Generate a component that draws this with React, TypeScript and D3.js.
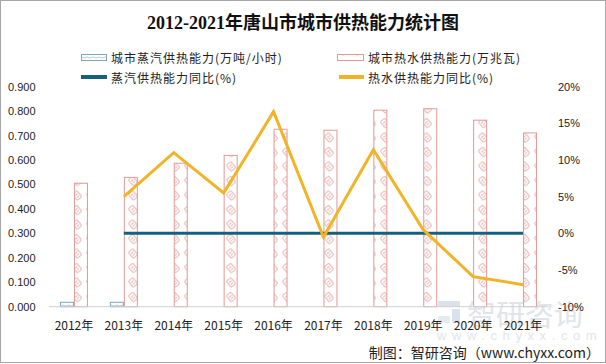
import React from "react"
import * as d3 from "d3"

const years = ["2012年", "2013年", "2014年", "2015年", "2016年", "2017年", "2018年", "2019年", "2020年", "2021年"]
// 城市蒸汽供热能力(万吨/小时)
const steamCap = [0.018, 0.018, 0, 0, 0, 0, 0, 0, 0, 0]
// 城市热水供热能力(万兆瓦)
const waterCap = [0.505, 0.529, 0.587, 0.619, 0.726, 0.722, 0.804, 0.81, 0.763, 0.711]
// 蒸汽供热能力同比(%)
const steamYoy: (number | null)[] = [null, 0, 0, 0, 0, 0, 0, 0, 0, 0]
// 热水供热能力同比(%)
const waterYoy: (number | null)[] = [null, 5.0, 11.0, 5.5, 16.6, -0.5, 11.4, 0.5, -5.9, -7.0]

const leftTicks = [0, 0.1, 0.2, 0.3, 0.4, 0.5, 0.6, 0.7, 0.8, 0.9]
const rightTicks = [-10, -5, 0, 5, 10, 15, 20]

const W = 606
const H = 364
const cjk = "'Noto Sans CJK SC', sans-serif"
const num = "'Liberation Sans', Arial, sans-serif"

export default function App() {
  const plot = { left: 49, right: 548, top: 86.7, bottom: 306.7 }

  const x0 = d3.scaleBand<string>().domain(years).range([plot.left, plot.right]).padding(0)
  const groupW = 28
  const x1 = d3.scaleBand<string>().domain(["steam", "water"]).range([0, groupW])
  const yL = d3.scaleLinear().domain([0, 0.9]).range([plot.bottom, plot.top])
  const yR = d3.scaleLinear().domain([-10, 20]).range([plot.bottom, plot.top])
  const cx = (y: string) => (x0(y) || 0) + x0.bandwidth() / 2

  const line = d3
    .line<number | null>()
    .defined((d) => d !== null)
    .x((_, i) => cx(years[i]))
    .y((d) => yR(d as number))

  return (
    <svg width={W} height={H} style={{ position: "absolute", left: 0, top: 0, background: "#fff" }}>
      <defs>
        <pattern id="pWater" width="14" height="14.5" patternUnits="userSpaceOnUse">
          <rect width="14" height="14.5" fill="#fff" />
          <g transform="translate(7,7) rotate(-40)" fill="none" stroke="#e9b8b8" strokeWidth="1.1">
            <rect x="-3" y="-4" width="6" height="8" rx="1.5" />
            <line x1="-1.5" y1="-1" x2="1.5" y2="-1" />
            <line x1="-1.5" y1="1.5" x2="1.5" y2="1.5" />
          </g>
        </pattern>
        <pattern id="pSteam" width="6" height="4" patternUnits="userSpaceOnUse">
          <rect width="6" height="4" fill="#fff" />
          <path d="M0,2 L3,1 L6,2" fill="none" stroke="#9ec0cf" strokeWidth="0.8" />
        </pattern>
      </defs>

      <rect x={0.5} y={0.5} width={W - 1} height={H - 2} fill="none" stroke="#a6a6a6" />

      <text x={303} y={23} textAnchor="middle" dominantBaseline="central" fontSize={18} fontWeight="bold"
        fontFamily={"'Liberation Serif', 'Noto Sans CJK SC', serif"} fill="#111">
        2012-2021年唐山市城市供热能力统计图
      </text>

      {/* legend */}
      <g fontFamily={cjk} fontSize={12} fill="#222" letterSpacing={1}>
        <rect x={81.5} y={54.5} width={25} height={6} fill="url(#pSteam)" stroke="#7fa6b8" />
        <text x={111} y={57} dominantBaseline="central">城市蒸汽供热能力(万吨/小时)</text>
        <rect x={337.5} y={54.5} width={26} height={6} fill="url(#pWater)" stroke="#e09a96" />
        <text x={368} y={57} dominantBaseline="central">城市热水供热能力(万兆瓦)</text>
        <line x1={81} x2={107} y1={77} y2={77} stroke="#16607c" strokeWidth={4} />
        <text x={111} y={77} dominantBaseline="central">蒸汽供热能力同比(%)</text>
        <line x1={339} x2={364} y1={77} y2={77} stroke="#f0b429" strokeWidth={4} />
        <text x={368} y={77} dominantBaseline="central">热水供热能力同比(%)</text>
      </g>

      {/* watermark */}
      <g opacity={0.5}>
        <rect x={438} y={301} width={22} height={6} fill="#b9c6d8" />
        <rect x={452} y={309} width={8} height={14} fill="#b9c6d8" />
        <rect x={438} y={316} width={12} height={7} fill="#cfd8e4" />
        <text x={467} y={313} dominantBaseline="central" fontSize={29} fontFamily={cjk} fill="#c4ccd6">智研咨询</text>
        <text x={437} y={335} dominantBaseline="central" fontSize={13} fontFamily={num} fill="#c4ccd6" letterSpacing={5.6}>www.chyxx.com</text>
      </g>

      {/* axis labels */}
      <g fontFamily={num} fontSize={11} fill="#222">
        {leftTicks.map((t) => (
          <text key={t} x={8} y={yL(t)} dominantBaseline="central">{t.toFixed(3)}</text>
        ))}
        {rightTicks.map((t) => (
          <text key={t} x={558} y={yR(t)} dominantBaseline="central">{t}%</text>
        ))}
      </g>

      {/* bars */}
      {years.map((yr, i) => {
        const gx = (x0(yr) || 0) + (x0.bandwidth() - groupW) / 2
        return (
          <g key={yr}>
            {steamCap[i] > 0 && (
              <rect x={gx + (x1("steam") || 0) + 0.5} y={yL(steamCap[i])} width={x1.bandwidth() - 1}
                height={plot.bottom - yL(steamCap[i])} fill="url(#pSteam)" stroke="#7fa6b8" />
            )}
            <rect x={gx + (x1("water") || 0) + 0.5} y={yL(waterCap[i])} width={x1.bandwidth() - 1}
              height={plot.bottom - yL(waterCap[i])} fill="url(#pWater)" stroke="#e09a96" />
          </g>
        )
      })}

      {/* baseline */}
      <line x1={plot.left} x2={plot.right} y1={plot.bottom} y2={plot.bottom} stroke="#d0d0d0" />

      {/* year labels */}
      <g fontFamily={cjk} fontSize={12} fill="#222">
        {years.map((yr) => (
          <text key={yr} x={cx(yr)} y={324} textAnchor="middle" dominantBaseline="central">{yr}</text>
        ))}
      </g>

      {/* lines */}
      <path d={line(steamYoy) || ""} fill="none" stroke="#16607c" strokeWidth={3} />
      <path d={line(waterYoy) || ""} fill="none" stroke="#f0b429" strokeWidth={3} strokeLinejoin="miter" />

      <text x={600} y={352} textAnchor="end" dominantBaseline="central" fontSize={14} fontFamily={cjk} fill="#222">
        制图：智研咨询（www.chyxx.com）
      </text>
    </svg>
  )
}
